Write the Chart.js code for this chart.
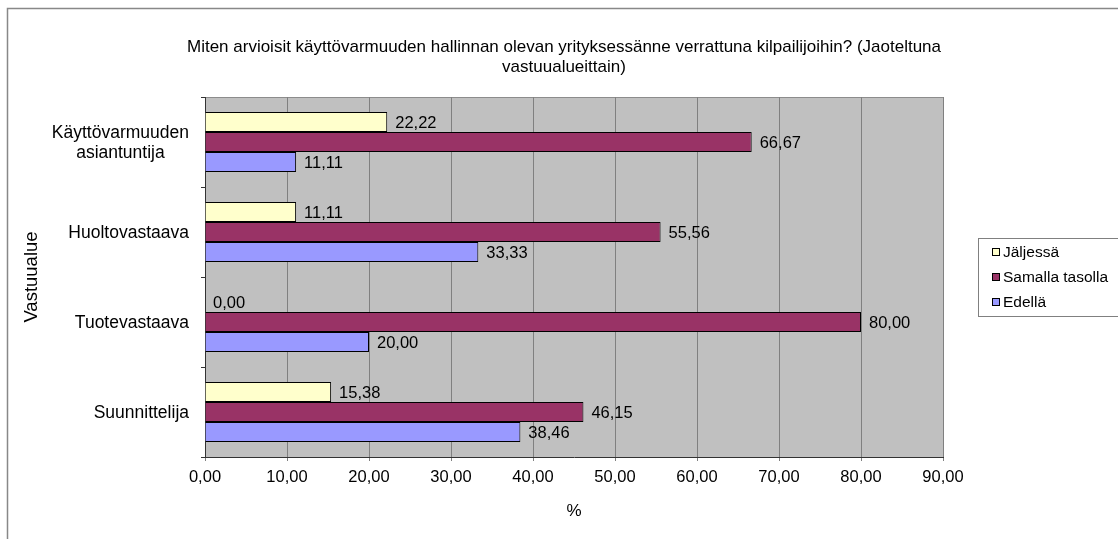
<!DOCTYPE html>
<html>
<head>
<meta charset="utf-8">
<script src="https://cdn.jsdelivr.net/npm/chart.js@4/dist/chart.umd.min.js"></script>
<style>
  html, body { margin: 0; padding: 0; background: #fff; }
  canvas { display: block; }
</style>
</head>
<body>
<canvas id="chart" width="1118" height="539"></canvas>
<script>
const categories = [['Käyttövarmuuden', 'asiantuntija'], 'Huoltovastaava', 'Tuotevastaava', 'Suunnittelija'];
const seriesNames = ['Jäljessä', 'Samalla tasolla', 'Edellä'];
const jaljessa = [22.22, 11.11, 0.00, 15.38];
const samalla = [66.67, 55.56, 80.00, 46.15];
const edella = [11.11, 33.33, 20.00, 38.46];
const xMin = 0, xMax = 90, xStep = 10;
const titleLines = ['Miten arvioisit käyttövarmuuden hallinnan olevan yrityksessänne verrattuna kilpailijoihin? (Jaoteltuna', 'vastuualueittain)'];
const colors = ['#FFFFCC', '#993366', '#9999FF'];

const FONT = '"Liberation Sans", Arial, sans-serif';
const fmt = v => v.toFixed(2).replace('.', ',');

// frame, plot background, title, legend, labels
const decor = {
    id: 'decor',
    beforeDraw(chart) {
        const {ctx, chartArea: a} = chart;
        ctx.save();
        ctx.fillStyle = '#fff';
        ctx.fillRect(0, 0, chart.width, chart.height);
        ctx.fillStyle = '#C0C0C0';
        ctx.fillRect(a.left, a.top, a.right - a.left, a.bottom - a.top);
        ctx.strokeStyle = '#8c8c8c';
        ctx.lineWidth = 1;
        ctx.beginPath();
        ctx.moveTo(a.left, a.top + 0.5);
        ctx.lineTo(a.right, a.top + 0.5);
        ctx.stroke();
        // outer frame
        ctx.strokeStyle = '#888';
        ctx.lineWidth = 1.5;
        ctx.beginPath();
        ctx.moveTo(7.5, chart.height);
        ctx.lineTo(7.5, 8.5);
        ctx.lineTo(chart.width, 8.5);
        ctx.stroke();
        // title
        ctx.fillStyle = '#000';
        ctx.font = '17px ' + FONT;
        ctx.textAlign = 'center';
        ctx.textBaseline = 'middle';
        titleLines.forEach((t, i) => ctx.fillText(t, 564, 47 + i * 20));
        ctx.restore();
    },
    afterDatasetsDraw(chart) {
        const {ctx} = chart;
        ctx.save();
        ctx.fillStyle = '#000';
        ctx.font = '16.5px ' + FONT;
        ctx.textAlign = 'left';
        ctx.textBaseline = 'middle';
        chart.data.datasets.forEach((ds, di) => {
            chart.getDatasetMeta(di).data.forEach((bar, i) => {
                ctx.fillText(fmt(ds.data[i]), bar.x + 8, bar.y + 1);
            });
        });
        // category labels
        const y = chart.scales.y;
        ctx.font = '17.5px ' + FONT;
        categories.forEach((c, i) => {
            const lines = Array.isArray(c) ? c : [c];
            const w = Math.max(...lines.map(l => ctx.measureText(l).width));
            const cy = y.getPixelForValue(i);
            ctx.textAlign = 'center';
            lines.forEach((l, k) => {
                ctx.fillText(l, 189 - w / 2, cy + 1 + (k - (lines.length - 1) / 2) * 20);
            });
        });
        ctx.restore();
    },
    afterDraw(chart) {
        const {ctx} = chart;
        ctx.save();
        ctx.strokeStyle = '#808080';
        ctx.lineWidth = 1;
        ctx.strokeRect(978.5, 238.5, 220, 78);
        ctx.font = '15.5px ' + FONT;
        ctx.textBaseline = 'middle';
        ctx.textAlign = 'left';
        seriesNames.forEach((n, i) => {
            const cy = 252 + i * 25;
            ctx.fillStyle = colors[i];
            ctx.fillRect(992, cy - 4, 8, 8);
            ctx.strokeStyle = '#000';
            ctx.strokeRect(992.5, cy - 3.5, 7, 7);
            ctx.fillStyle = '#000';
            ctx.fillText(n, 1003, cy + 1);
        });
        ctx.restore();
    }
};

const barStyle = {borderColor: '#000', borderWidth: 1, barPercentage: 1, categoryPercentage: 60 / 90};

new Chart(document.getElementById('chart').getContext('2d'), {
    type: 'bar',
    data: {
        labels: categories,
        datasets: [
            Object.assign({label: seriesNames[0], data: jaljessa, backgroundColor: colors[0]}, barStyle),
            Object.assign({label: seriesNames[1], data: samalla, backgroundColor: colors[1]}, barStyle),
            Object.assign({label: seriesNames[2], data: edella, backgroundColor: colors[2]}, barStyle)
        ]
    },
    options: {
        indexAxis: 'y',
        responsive: false,
        animation: false,
        layout: {padding: {top: 97, right: 175, left: 0, bottom: 0}},
        plugins: {legend: {display: false}, title: {display: false}, tooltip: {enabled: false}},
        scales: {
            x: {
                min: xMin,
                max: xMax,
                ticks: {
                    stepSize: xStep,
                    padding: 7,
                    color: '#000',
                    font: {family: FONT, size: 16.5},
                    callback: v => fmt(v)
                },
                grid: {color: '#808080', tickLength: 4, tickColor: '#808080'},
                border: {color: '#333'},
                title: {display: true, text: '%', color: '#000', font: {family: FONT, size: 17}, padding: {top: 0, bottom: 17}},
                afterFit: s => { s.height = 82; }
            },
            y: {
                offset: true,
                ticks: {display: false},
                grid: {drawOnChartArea: false, tickLength: 4, tickColor: '#333', offset: true},
                border: {color: '#333'},
                title: {display: true, text: 'Vastuualue', color: '#000', font: {family: FONT, size: 18.5}, padding: {top: 21, bottom: 0}},
                afterFit: s => { s.width = 205; }
            }
        }
    },
    plugins: [decor]
});
</script>
</body>
</html>
